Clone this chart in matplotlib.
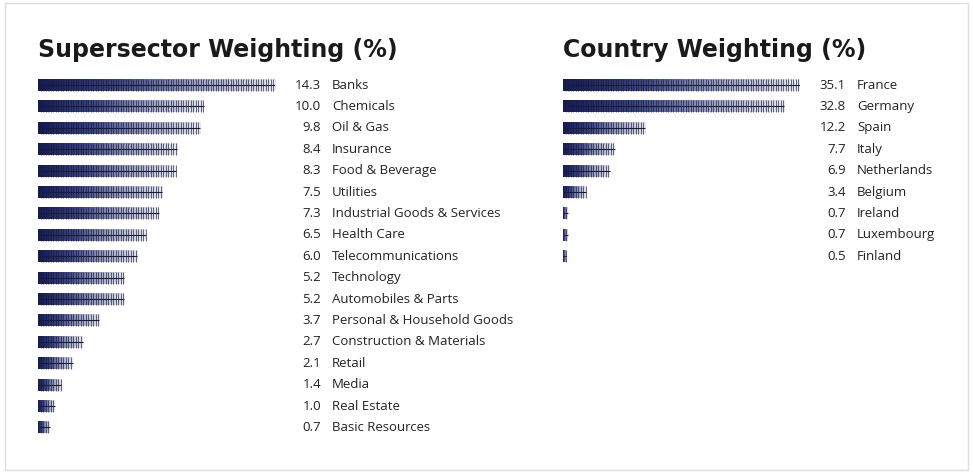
import numpy as np
import matplotlib
matplotlib.use("Agg")
import matplotlib.pyplot as plt
from matplotlib.colors import LinearSegmentedColormap
from matplotlib.patches import Rectangle

sectors = ["Banks","Chemicals","Oil & Gas","Insurance","Food & Beverage","Utilities",
           "Industrial Goods & Services","Health Care","Telecommunications","Technology",
           "Automobiles & Parts","Personal & Household Goods","Construction & Materials",
           "Retail","Media","Real Estate","Basic Resources"]
sector_vals = [14.3,10.0,9.8,8.4,8.3,7.5,7.3,6.5,6.0,5.2,5.2,3.7,2.7,2.1,1.4,1.0,0.7]
countries = ["France","Germany","Spain","Italy","Netherlands","Belgium","Ireland","Luxembourg","Finland"]
country_vals = [35.1,32.8,12.2,7.7,6.9,3.4,0.7,0.7,0.5]

W, H = 973, 473
fig = plt.figure(figsize=(W/100, H/100), dpi=100)
fig.patches.append(Rectangle((5/W, 3/H), 963/W, 467/H, transform=fig.transFigure,
                             fill=False, ec="#dddddd", lw=1))
cmap = LinearSegmentedColormap.from_list("g", ["#141a5a", "#3a4488", "#9aa0c8", "#e6e7f2"])
pitch = 21.4
top = 85 - pitch/2

def panel(x0, x1, vals, labels, title, valx, labx):
    n = len(vals)
    ax = fig.add_axes([x0/W, 1 - (top + n*pitch)/H, (x1-x0)/W, n*pitch/H])
    ax.set_xlim(0, max(vals)); ax.set_ylim(n - 0.5, -0.5); ax.axis("off")
    pxu = max(vals) / (x1 - x0)
    grad = np.linspace(0, 1, 256)[None, :]
    for i, v in enumerate(vals):
        ax.imshow(grad, cmap=cmap, aspect="auto", extent=(0, v, i + 0.28, i - 0.28),
                  interpolation="bilinear", zorder=1)
        xs = np.arange(2.5*pxu, v, 2.5*pxu)
        ax.vlines(xs, i - 0.28, i + 0.28, color="#1c1c30", lw=0.45, zorder=2)
        ax.hlines(i, 0, v, color="#1c1c30", lw=0.8, zorder=2)
        ax.text((valx - x0) * pxu, i, f"{v:.1f}", ha="right", va="center", fontsize=9.5,
                color="#222", family="Open Sans", clip_on=False)
        ax.text((labx - x0) * pxu, i, labels[i], ha="left", va="center", fontsize=9.5,
                color="#222", family="Open Sans", clip_on=False)
    ax.set_ylim(n - 0.5, -0.5)
    fig.text(x0/W, 1 - 50/H, title, fontsize=17, fontweight="heavy",
             family="DejaVu Sans", ha="left", va="center", color="#1a1a1a")

panel(38, 275, sector_vals, sectors, "Supersector Weighting (%)", 321, 332)
panel(563, 800, country_vals, countries, "Country Weighting (%)", 846, 857)
fig.savefig("out.png", dpi=100)
